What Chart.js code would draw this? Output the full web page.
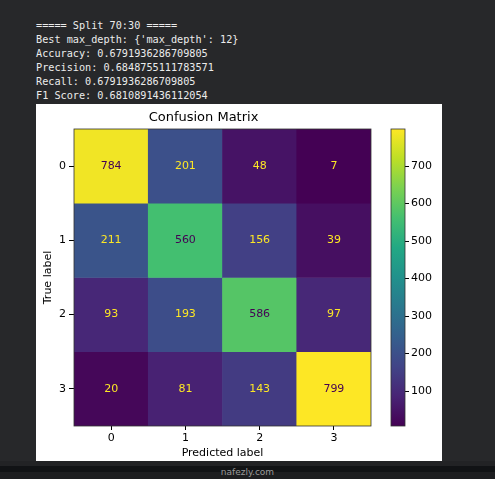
<!DOCTYPE html>
<html>
<head>
<meta charset="utf-8">
<script src="https://cdn.jsdelivr.net/npm/chart.js@4.4.0/dist/chart.umd.min.js"></script>
<style>
  html, body { margin:0; padding:0; }
  body { width:495px; height:479px; background:#27282a; position:relative; overflow:hidden; }
  #log { position:absolute; left:36px; top:19px; margin:0; font-family:"DejaVu Sans Mono", monospace; font-size:10.2px; line-height:14px; color:#ececec; }
  #panel { position:absolute; left:36px; top:104px; width:406px; height:357px; background:#fff; }
  #cmWrap { position:absolute; left:0; top:0; width:344px; height:357px; }
  #cbWrap { position:absolute; left:344px; top:0; width:62px; height:357px; }
  #band1 { position:absolute; left:0; top:461px; width:495px; height:5px; background:#222325; }
  #band2 { position:absolute; left:0; top:466px; width:495px; height:6px; background:#111315; }
  #band3 { position:absolute; left:0; top:472px; width:495px; height:7px; background:#1d1e20; }
  #mark { position:absolute; left:0; width:495px; top:467px; text-align:center; font-family:"DejaVu Sans", sans-serif; font-size:9px; color:#9a9a9a; }
</style>
</head>
<body>
<pre id="log">===== Split 70:30 =====
Best max_depth: {'max_depth': 12}
Accuracy: 0.6791936286709805
Precision: 0.6848755111783571
Recall: 0.6791936286709805
F1 Score: 0.6810891436112054</pre>
<div id="panel">
  <div id="cmWrap"><canvas id="cm"></canvas></div>
  <div id="cbWrap"><canvas id="cb"></canvas></div>
</div>
<div id="band1"></div><div id="band2"></div><div id="band3"></div>
<div id="mark">nafezly.com</div>
<script>
// data
const predictedLabels = ["0", "1", "2", "3"];
const trueLabels = ["0", "1", "2", "3"];
const row0 = [784, 201, 48, 7];
const row1 = [211, 560, 156, 39];
const row2 = [93, 193, 586, 97];
const row3 = [20, 81, 143, 799];
const matrix = [row0, row1, row2, row3];
const colorbarTicks = [100, 200, 300, 400, 500, 600, 700];

const vmin = Math.min(...matrix.flat());
const vmax = Math.max(...matrix.flat());

/* viridis colour map */
const viridis = ["#440154","#482475","#414487","#355f8d","#2a788e","#21918c","#22a884","#44bf70","#7ad151","#bddf26","#fde725"];

function hexToRgb(h){
  return [parseInt(h.slice(1,3),16), parseInt(h.slice(3,5),16), parseInt(h.slice(5,7),16)];
}
function cmap(t){
  t = Math.max(0, Math.min(1, t));
  const p = t * (viridis.length - 1);
  const i = Math.min(Math.floor(p), viridis.length - 2);
  const f = p - i;
  const a = hexToRgb(viridis[i]), b = hexToRgb(viridis[i+1]);
  const c = a.map((v,k) => Math.round(v + (b[k]-v)*f));
  return `rgb(${c[0]},${c[1]},${c[2]})`;
}
const norm = v => (v - vmin) / (vmax - vmin);

const FONT = "'DejaVu Sans', sans-serif";
Chart.defaults.font.family = FONT;
Chart.defaults.color = "#000";
Chart.defaults.animation = false;

/* frame around the plot area */
const framePlugin = {
  id: "frame",
  afterDatasetsDraw(chart){
    const {ctx, chartArea:a} = chart;
    ctx.save();
    ctx.strokeStyle = "#333";
    ctx.lineWidth = 0.8;
    ctx.strokeRect(a.left, a.top, a.right - a.left, a.bottom - a.top);
    ctx.restore();
  }
};

/* cell numbers */
const cellText = {
  id: "cellText",
  afterDatasetsDraw(chart){
    const {ctx} = chart;
    const mid = (vmin + vmax) / 2;
    ctx.save();
    ctx.font = "11px " + FONT;
    ctx.textAlign = "center";
    ctx.textBaseline = "middle";
    chart.data.datasets.forEach((ds, r) => {
      chart.getDatasetMeta(r).data.forEach((bar, c) => {
        const v = matrix[r][c];
        const p = bar.getCenterPoint();
        ctx.fillStyle = v > mid ? viridis[0] : viridis[viridis.length-1];
        ctx.fillText(String(v), p.x, p.y);
      });
    });
    ctx.restore();
  }
};

/* MAIN MATRIX */
new Chart(document.getElementById("cm"), {
  type: "bar",
  data: {
    labels: predictedLabels,
    datasets: trueLabels.map((lab, r) => ({
      label: "True " + lab,
      data: predictedLabels.map(() => [r - 0.5, r + 0.5]),
      backgroundColor: matrix[r].map(v => cmap(norm(v))),
      borderWidth: 0,
      barPercentage: 1,
      categoryPercentage: 1,
      grouped: false
    }))
  },
  options: {
    responsive: true,
    maintainAspectRatio: false,
    layout: { padding: { left: 0, right: 9, top: 0, bottom: 0 } },
    plugins: {
      legend: { display: false },
      tooltip: { enabled: false },
      title: {
        display: true,
        text: "Confusion Matrix",
        font: { size: 13, weight: "normal" },
        padding: { top: 6.2, bottom: 3.2 },
        color: "#000"
      }
    },
    scales: {
      x: {
        type: "category",
        offset: true,
        grid: { offset: false, drawOnChartArea: false, drawTicks: true, tickLength: 4, color: "#000" },
        border: { display: false },
        ticks: { font: { size: 11 }, padding: 2, color: "#000", maxRotation: 0 },
        title: { display: true, text: "Predicted label", font: { size: 11 }, padding: { top: 0, bottom: 1.5 }, color: "#000" },
        afterFit(s){ s.height = 35; }
      },
      y: {
        type: "linear",
        reverse: true,
        min: -0.5,
        max: 3.5,
        afterBuildTicks(s){ s.ticks = trueLabels.map((_, i) => ({ value: i })); },
        grid: { drawOnChartArea: false, drawTicks: true, tickLength: 5, color: "#000" },
        border: { display: false },
        ticks: { font: { size: 11 }, padding: 3, color: "#000", callback: v => trueLabels[v] },
        title: { display: true, text: "True label", font: { size: 11 }, padding: { top: 5.4, bottom: 0 }, color: "#000" },
        afterFit(s){ s.width = 38; }
      }
    }
  },
  plugins: [cellText, framePlugin]
});

/* COLORBAR */
new Chart(document.getElementById("cb"), {
  type: "bar",
  data: {
    labels: [""],
    datasets: [{
      data: [[vmin, vmax]],
      borderWidth: 0,
      barPercentage: 1,
      categoryPercentage: 1,
      backgroundColor(ctx){
        const a = ctx.chart.chartArea;
        if (!a) return viridis[5];
        const g = ctx.chart.ctx.createLinearGradient(0, a.bottom, 0, a.top);
        viridis.forEach((c, i) => g.addColorStop(i / (viridis.length - 1), c));
        return g;
      }
    }]
  },
  options: {
    responsive: true,
    maintainAspectRatio: false,
    layout: { padding: { left: 11, right: 0, top: 25, bottom: 35 } },
    plugins: { legend: { display: false }, tooltip: { enabled: false } },
    scales: {
      x: { display: false },
      y: {
        position: "right",
        min: vmin,
        max: vmax,
        afterBuildTicks(s){ s.ticks = colorbarTicks.map(v => ({ value: v })); },
        grid: { drawOnChartArea: false, drawTicks: true, tickLength: 4, color: "#000" },
        border: { display: false },
        ticks: { font: { size: 11 }, padding: 2, color: "#000" },
        afterFit(s){ s.width = 37; }
      }
    }
  },
  plugins: [framePlugin]
});
</script>
</body>
</html>
